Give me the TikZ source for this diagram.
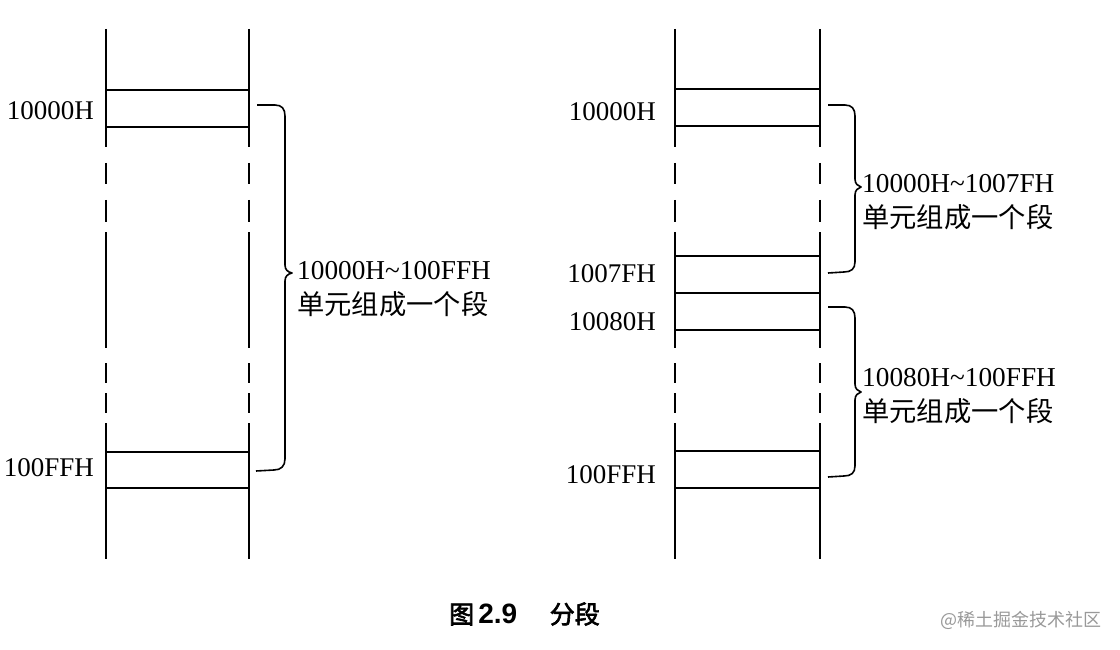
\documentclass[tikz,border=0pt]{standalone}
\usepackage{fontspec}
\setmainfont{Liberation Serif}
\newfontfamily\cjk{Noto Sans CJK SC}
\newfontfamily\cjkbold[FakeBold=2.5]{Noto Sans CJK SC}
\newfontfamily\capsans{Liberation Sans}
\tikzset{
  memline/.style={line width=1.9pt, line cap=butt},
  bracestyle/.style={line width=1.6pt, line join=round},
  addr/.style={font=\fontsize{27}{32}\selectfont, inner sep=0pt, anchor=east},
  seglabel/.style={font=\fontsize{27.3}{35}\selectfont, inner sep=0pt, anchor=west, align=left},
}
\begin{document}
\begin{tikzpicture}[x=1pt,y=-1pt]
\useasboundingbox (0,0) rectangle (1120,650);
% columns (broken vertical lines)
\foreach \xc in {106,249,675,820}{
  \foreach \a/\b in {29/147,163/184,200/222,232/348,363/383,393/413,423/559}{
    \draw[memline] (\xc,\a) -- (\xc,\b);
  }
}
% left column cells
\foreach \y in {90,127,452,488}{ \draw[memline] (106,\y) -- (249,\y); }
% right column cells
\foreach \y in {89,126,256,293,330,451,488}{ \draw[memline] (675,\y) -- (820,\y); }
% address labels
\node[addr] (la) at (94,111) {10000H};
\node[addr] (lb) at (94,468) {100FFH};
\node[addr] (ra) at (656,112) {10000H};
\node[addr] (rb) at (656,274) {1007FH};
\node[addr] (rc) at (656,322) {10080H};
\node[addr] (rd) at (656,475) {100FFH};
% braces
\coordinate (b1t) at (257,105); \coordinate (b1b) at (256,471); \coordinate (b1m) at (292,273);
\draw[bracestyle] (b1t) -- (275,105) .. controls (282,105) and (285,109) .. (285,116) -- (285,265)
  .. controls (285,270) and (288,272) .. (b1m) .. controls (288,274) and (285,276) .. (285,281)
  -- (285,459) .. controls (285,466) and (281,470) .. (274,470) -- (b1b);
\coordinate (b2t) at (828,105); \coordinate (b2b) at (828,273); \coordinate (b2m) at (861,187);
\draw[bracestyle] (b2t) -- (845,105) .. controls (852,105) and (855,109) .. (855,116) -- (855,179)
  .. controls (855,184) and (858,186) .. (b2m) .. controls (858,188) and (855,190) .. (855,195)
  -- (855,262) .. controls (855,269) and (851,272) .. (844,272) -- (b2b);
\coordinate (b3t) at (828,307); \coordinate (b3b) at (828,477); \coordinate (b3m) at (861,392);
\draw[bracestyle] (b3t) -- (845,307) .. controls (852,307) and (855,311) .. (855,318) -- (855,384)
  .. controls (855,389) and (858,391) .. (b3m) .. controls (858,393) and (855,395) .. (855,400)
  -- (855,466) .. controls (855,473) and (851,476) .. (844,476) -- (b3b);
% segment labels
\node[seglabel] (s1) at (297,289) {10000H\textasciitilde100FFH\\{\cjk 单元组成一个段}};
\node[seglabel] (s2) at (862,202) {10000H\textasciitilde1007FH\\{\cjk 单元组成一个段}};
\node[seglabel] (s3) at (862,396) {10080H\textasciitilde100FFH\\{\cjk 单元组成一个段}};
% caption
\node[inner sep=0pt, font=\fontsize{25}{28}\selectfont, anchor=west] (cap) at (449,614)
  {{\cjkbold 图}\,{\capsans\bfseries\fontsize{28}{28}\selectfont 2.9}\hspace{1.3em}{\cjkbold 分段}};
\node[inner sep=0pt, font=\cjk\fontsize{18}{20}\selectfont, text=black!40, anchor=east] (wm) at (1102,620)
  {@稀土掘金技术社区};
\end{tikzpicture}
\end{document}
